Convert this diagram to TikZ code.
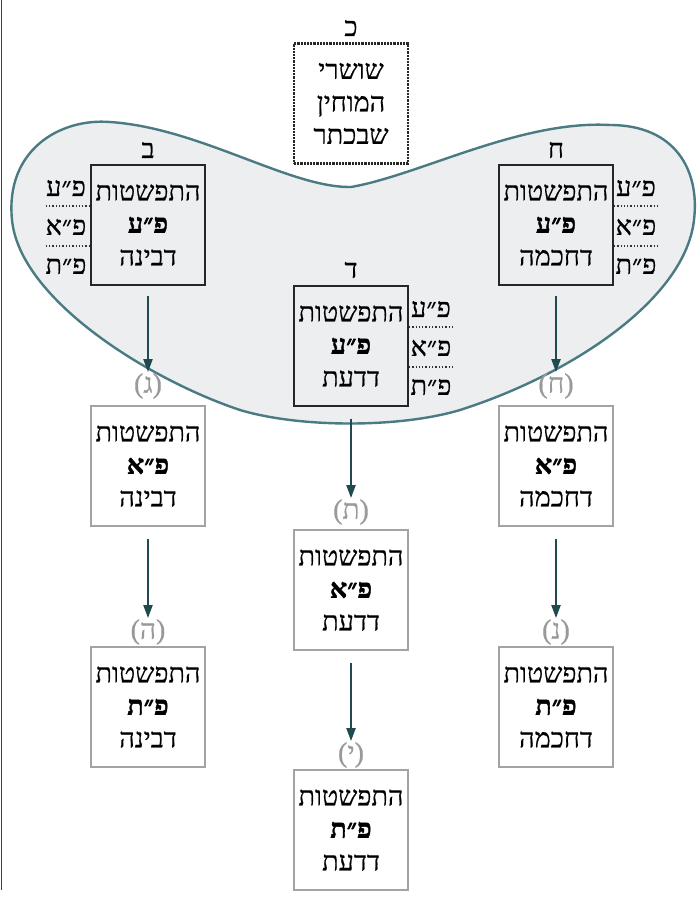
\documentclass[tikz,border=0pt]{standalone}
\usepackage{fontspec}
\usetikzlibrary{arrows.meta}
\TeXXeTstate=1
\newfontfamily\hebfont[Script=Hebrew, UprightFeatures={FakeBold=0.6}, BoldFeatures={FakeBold=1.5}]{Liberation Serif}
\newcommand{\heb}[1]{{\hebfont\beginR #1\endR}}
\newcommand{\hebb}[1]{{\hebfont\bfseries\beginR #1\endR}}
\definecolor{blobfill}{HTML}{ECEEF0}
\definecolor{blobline}{HTML}{4A7A82}
\definecolor{arrcol}{HTML}{1F4A50}
\definecolor{graybox}{HTML}{A3A3A3}
\definecolor{graylbl}{HTML}{9A9A9A}
\begin{document}
\begin{tikzpicture}[x=1pt,y=-1pt,
 hbox/.style={minimum width=114pt, minimum height=120pt, inner sep=0pt, align=center, font=\fontsize{27}{32.5}\selectfont},
 darkbox/.style={hbox, draw=black!85, line width=1.9pt},
 lightbox/.style={hbox, draw=graybox, line width=1.9pt},
 topbox/.style={hbox, draw=black!85, line width=2.2pt, densely dotted},
 toplbl/.style={font=\fontsize{27}{27}\selectfont, inner sep=1pt},
 grlbl/.style={font=\fontsize{28}{28}\selectfont, text=graylbl, inner sep=1pt},
 sidelbl/.style={font=\fontsize{27}{27}\selectfont, inner sep=0pt},
 dotline/.style={dotted, line width=1.3pt, black!80},
 arr/.style={-{Triangle[width=9pt,length=13pt]}, line width=2pt, draw=arrcol, fill=arrcol}
]
\useasboundingbox (0,0) rectangle (699,900);
\draw[gray!50!black, line width=1pt] (1,0) -- (1,890);
% blob
\draw[fill=blobfill, draw=blobline, line width=2.4pt]
 (351,187) .. controls (420,175) and (520,120) .. (610,125)
 .. controls (675,125) and (700,170) .. (694,220)
 .. controls (685,300) and (570,375) .. (460,410)
 .. controls (400,428) and (300,428) .. (240,410)
 .. controls (150,380) and (20,300) .. (12,220)
 .. controls (5,150) and (60,118) .. (110,122)
 .. controls (200,128) and (290,188) .. (351,187) -- cycle;
% top box
\node[topbox] (keter) at (351,103.5) {\heb{שושרי}\\ \heb{המוחין}\\ \heb{שבכתר}};
\node[toplbl] (kaf) at (351,28) {\heb{כ}};
% upper boxes
\node[darkbox] (bina) at (148,225) {\heb{התפשטות}\\ \hebb{פ״ע}\\ \heb{דבינה}};
\node[toplbl] (bet) at (148,150) {\heb{ב}};
\node[darkbox] (hochma) at (556,225) {\heb{התפשטות}\\ \hebb{פ״ע}\\ \heb{דחכמה}};
\node[toplbl] (het) at (556,150) {\heb{ח}};
\node[darkbox] (daat) at (351,346) {\heb{התפשטות}\\ \hebb{פ״ע}\\ \heb{דדעת}};
\node[toplbl] (dalet) at (351,270) {\heb{ד}};
% side labels left
\node[sidelbl] (bl1) at (66,188) {\heb{פ״ע}};
\node[sidelbl] (bl2) at (66,227) {\heb{פ״א}};
\node[sidelbl] (bl3) at (66,266) {\heb{פ״ת}};
\coordinate (bd1) at (45,206);
\coordinate (bd2) at (45,246);
\draw[dotline] (bina.west |- bd1) -- (bd1);
\draw[dotline] (bina.west |- bd2) -- (bd2);
% side labels right
\node[sidelbl] (hl1) at (636,188) {\heb{פ״ע}};
\node[sidelbl] (hl2) at (636,227) {\heb{פ״א}};
\node[sidelbl] (hl3) at (636,266) {\heb{פ״ת}};
\coordinate (hd1) at (658,206);
\coordinate (hd2) at (658,246);
\draw[dotline] (hochma.east |- hd1) -- (hd1);
\draw[dotline] (hochma.east |- hd2) -- (hd2);
% side labels middle
\node[sidelbl] (dl1) at (431,309) {\heb{פ״ע}};
\node[sidelbl] (dl2) at (431,348) {\heb{פ״א}};
\node[sidelbl] (dl3) at (431,387) {\heb{פ״ת}};
\coordinate (dd1) at (455,327);
\coordinate (dd2) at (455,367);
\draw[dotline] (daat.east |- dd1) -- (dd1);
\draw[dotline] (daat.east |- dd2) -- (dd2);
% lower boxes
\node[grlbl] (gimel) at (148,386) {\hebfont(ג)};
\node[lightbox] (bina2) at (148,466) {\heb{התפשטות}\\ \hebb{פ״א}\\ \heb{דבינה}};
\node[grlbl] (he) at (148,632) {\hebfont(ה)};
\node[lightbox] (bina3) at (148,707) {\heb{התפשטות}\\ \hebb{פ״ת}\\ \heb{דבינה}};
\node[grlbl] (het2) at (556,386) {\hebfont(ח)};
\node[lightbox] (hochma2) at (556,466) {\heb{התפשטות}\\ \hebb{פ״א}\\ \heb{דחכמה}};
\node[grlbl] (nun) at (556,632) {\hebfont(נ)};
\node[lightbox] (hochma3) at (556,707) {\heb{התפשטות}\\ \hebb{פ״ת}\\ \heb{דחכמה}};
\node[grlbl] (tav) at (351,512) {\hebfont(ת)};
\node[lightbox] (daat2) at (351,590) {\heb{התפשטות}\\ \hebb{פ״א}\\ \heb{דדעת}};
\node[grlbl] (yud) at (351,755) {\hebfont(י)};
\node[lightbox] (daat3) at (351,830) {\heb{התפשטות}\\ \hebb{פ״ת}\\ \heb{דדעת}};
% arrows
\draw[arr, shorten <=10pt] (bina) -- (gimel);
\draw[arr, shorten <=10pt] (hochma) -- (het2);
\draw[arr, shorten <=12pt] (daat) -- (tav);
\draw[arr, shorten <=12pt] (bina2) -- (he);
\draw[arr, shorten <=12pt] (hochma2) -- (nun);
\draw[arr, shorten <=12pt] (daat2) -- (yud);
\end{tikzpicture}
\end{document}
